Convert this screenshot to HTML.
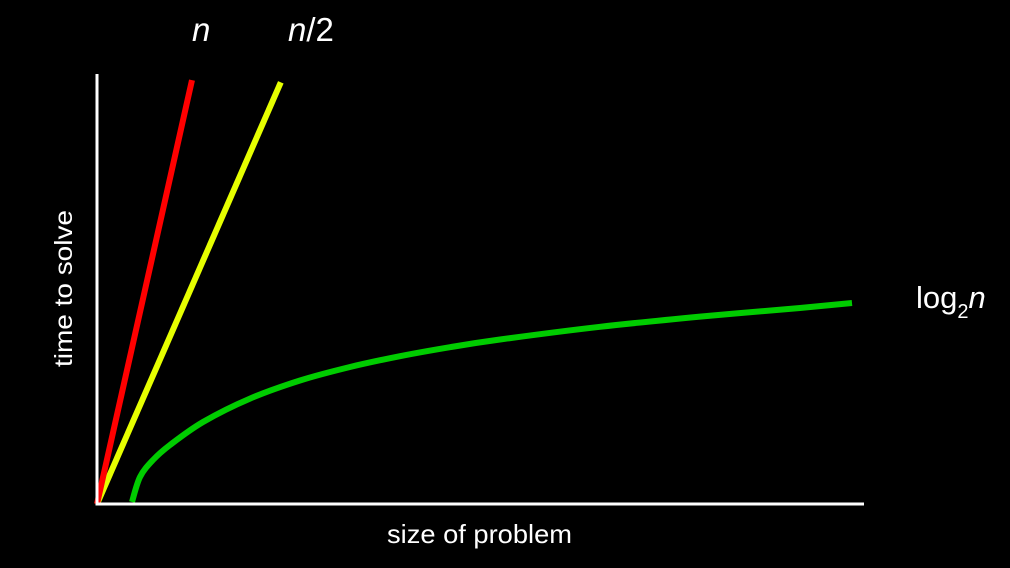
<!DOCTYPE html>
<html><head><meta charset="utf-8"><style>
html,body{margin:0;padding:0;background:#000;width:1010px;height:568px;overflow:hidden}
text{font-family:"Liberation Sans",Arial,sans-serif;fill:#fff}
</style></head><body>
<svg id="chart" width="1010" height="568" viewBox="0 0 1010 568">
<rect width="1010" height="568" fill="#000"/>
<g id="series"></g>
<line x1="97" y1="74" x2="97" y2="505" stroke="#fff" stroke-width="3"/>
<line x1="95.5" y1="504" x2="864" y2="504" stroke="#fff" stroke-width="3"/>
<text x="387" y="543" font-size="26" textLength="185" lengthAdjust="spacingAndGlyphs">size of problem</text>
<text transform="translate(72,367) rotate(-90)" font-size="25" textLength="157" lengthAdjust="spacingAndGlyphs">time to solve</text>
<text x="192" y="41" font-size="33" font-style="italic">n</text>
<text x="288" y="41" font-size="33"><tspan font-style="italic">n</tspan>/2</text>
<text x="916" y="308" font-size="31">log<tspan font-size="20" dy="10">2</tspan><tspan font-style="italic" dy="-10">n</tspan></text>
</svg>
<script>
const redX=[0,12.4];
const redY=[0,98.8];
const yellowX=[0,24];
const yellowY=[0,98.3];
const greenX=[4.57,5.61,7.31,9.53,13.84,19.97,26.5,33.03,39.56,46.08,52.61,65.67,78.72,91.78,98.56];
const greenY=[0.47,6.29,10.26,13.75,19.11,24.57,28.79,31.93,34.45,36.55,38.34,41.3,43.68,45.69,46.85];
function xs(v){return 97+v*7.66;}
function ys(v){return 504-v*4.29;}
const g=document.getElementById('series');
function draw(X,Y,color,name){
  const p=document.createElementNS('http://www.w3.org/2000/svg','path');
  const P=X.map((x,i)=>[xs(x),ys(Y[i])]);
  let d='M'+P[0][0].toFixed(1)+','+P[0][1].toFixed(1);
  for(let i=0;i<P.length-1;i++){
    const p0=P[Math.max(0,i-1)],p1=P[i],p2=P[i+1],p3=P[Math.min(P.length-1,i+2)];
    const c1=[p1[0]+(p2[0]-p0[0])/6,p1[1]+(p2[1]-p0[1])/6];
    const c2=[p2[0]-(p3[0]-p1[0])/6,p2[1]-(p3[1]-p1[1])/6];
    d+='C'+c1.map(v=>v.toFixed(1)).join(',')+' '+c2.map(v=>v.toFixed(1)).join(',')+' '+p2.map(v=>v.toFixed(1)).join(',');
  }
  p.setAttribute('d',d);
  p.setAttribute('fill','none');
  p.setAttribute('stroke',color);
  p.setAttribute('stroke-width','6');
  p.setAttribute('stroke-linejoin','round');
  
  
  g.appendChild(p);
}
draw(greenX,greenY,'#00cc00','series-log2n');
draw(yellowX,yellowY,'#e6ff00','series-n-half');
draw(redX,redY,'#ff0000','series-n');
</script>
</body></html>
